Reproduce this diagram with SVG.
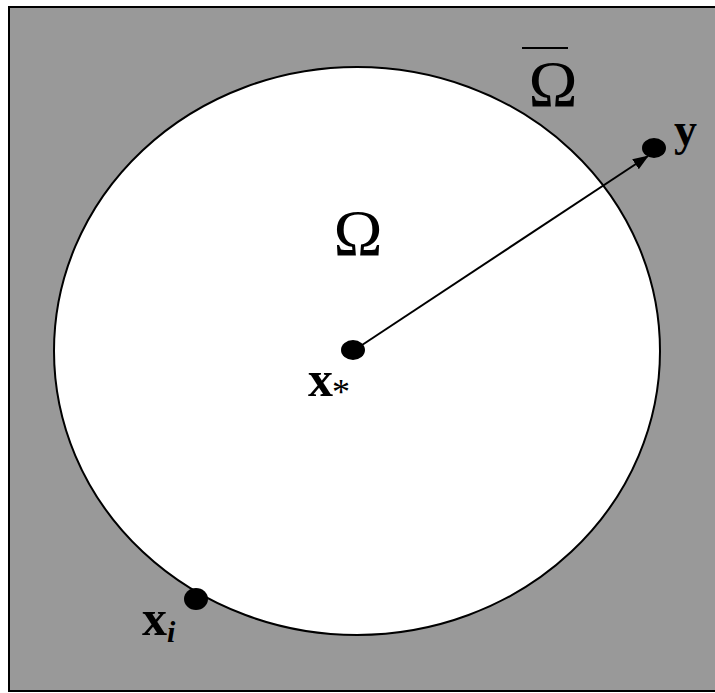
<svg xmlns="http://www.w3.org/2000/svg" width="715" height="693" viewBox="0 0 715 693">
<defs>
<style>
.lbl{font-family:"Liberation Serif","Times New Roman",serif;fill:#000}
.b{font-weight:bold}
.dot{fill:#000}
</style>
<marker id="ah" markerWidth="16" markerHeight="12" refX="15" refY="6" orient="auto" markerUnits="userSpaceOnUse">
<path d="M0,0 L16,6 L0,12 Z" fill="#000"/>
</marker>
</defs>
<g id="closure">
<rect x="9" y="7" width="712" height="684" fill="#999999" stroke="#000" stroke-width="2"/>
<line x1="522" y1="48" x2="568" y2="48" stroke="#000" stroke-width="2"/>
<text class="lbl" x="553" y="106" font-size="66" text-anchor="middle">Ω</text>
</g>
<g id="domain">
<ellipse cx="357" cy="351" rx="303" ry="284" fill="#fff" stroke="#000" stroke-width="2"/>
<text class="lbl" x="358" y="255" font-size="66" text-anchor="middle">Ω</text>
</g>
<g id="connectors">
<line x1="353" y1="351" x2="648" y2="156" stroke="#000" stroke-width="2" marker-end="url(#ah)"/>
</g>
<g id="xstar">
<ellipse class="dot" cx="353" cy="350" rx="12" ry="10"/>
<text class="lbl b" x="308" y="396" font-size="50">x</text>
<text class="lbl" x="332" y="404" font-size="36">*</text>
</g>
<g id="ypt">
<ellipse class="dot" cx="654" cy="148" rx="12" ry="10"/>
<text class="lbl b" x="674" y="145" font-size="46">y</text>
</g>
<g id="xi">
<ellipse class="dot" cx="196" cy="599" rx="12" ry="11"/>
<text class="lbl b" x="142" y="635" font-size="50">x</text>
<text class="lbl b" x="167" y="642" font-size="30" font-style="italic">i</text>
</g>
</svg>
